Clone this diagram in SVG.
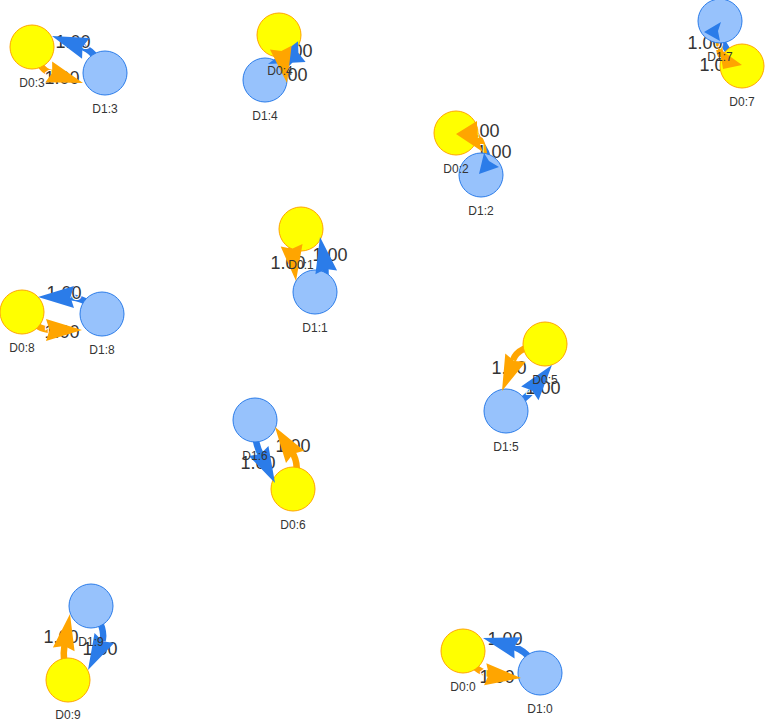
<svg xmlns="http://www.w3.org/2000/svg" xmlns:xlink="http://www.w3.org/1999/xlink" width="765" height="721" viewBox="0 0 765 721">
<style>
.bg{fill:#ffffff}
.e{fill:none;stroke-width:6.5;stroke-linecap:round}
.eo{stroke:#FFA500}
.eb{stroke:#2B7CE9}
.ao{fill:#FFA500}
.ab{fill:#2B7CE9}
.el{font-family:"Liberation Sans",Arial,sans-serif;font-size:18px;fill:#343434;stroke:#ffffff;stroke-width:2;paint-order:stroke;text-anchor:middle}
.n0 circle{fill:#FFFF00;stroke:#FFA500;stroke-width:1}
.n1 circle{fill:#97C2FC;stroke:#2B7CE9;stroke-width:1}
.nl{font-family:"Liberation Sans",Arial,sans-serif;font-size:12px;fill:#343434;text-anchor:middle}
</style>
<defs>
<path id="ah" d="M0,0 L-36,-11 L-32.4,0 L-36,11 Z"/>
</defs>
<rect class="bg" x="0" y="0" width="765" height="721"/>
<g id="connectors">
<path class="e eo" d="M32,47 Q40,72 52,73"/>
<path class="e eb" d="M105,73 Q95,50 80,46"/>
<path class="e eb" d="M102,314 Q86,297 67,297"/>
<path class="e eo" d="M22,312 Q36,330 52,330"/>
<path class="e eb" d="M540,673 Q528,650 511,646"/>
<path class="e eo" d="M463,651 Q474,672 490,674"/>
<path class="e eo" d="M301,229 Q290,236 292,250"/>
<path class="e eb" d="M315,292 Q328,282 325,267"/>
<path class="e eo" d="M545,344 Q518,346 513,360"/>
<path class="e eb" d="M506,411 Q522,402 533,390"/>
<path class="e eb" d="M255,420 Q253,440 261,455"/>
<path class="e eo" d="M293,489 Q301,466 292,452"/>
<path class="e eo" d="M68,680 Q62,660 64.5,645"/>
<path class="e eb" d="M91,606 Q107,630 102,642"/>
<path class="e eo" d="M279,35 Q282,45 281.5,51"/>
<path class="e eb" d="M265,80 Q284,70 295,54"/>
<path class="e eb" d="M456,133 Q482,136 488,158"/>
<path class="e eo" d="M481,175 Q488,150 478,137"/>
<path class="e eb" d="M742,66 Q724,50 718,32"/>
<path class="e eo" d="M720,21 Q716,45 722,58"/>
<text class="el" x="73" y="47.5">1.00</text>
<text class="el" x="62" y="83.5">1.00</text>
<text class="el" x="64" y="298.5">1.00</text>
<text class="el" x="62" y="337.5">1.00</text>
<text class="el" x="505" y="644.5">1.00</text>
<text class="el" x="497" y="682.5">1.00</text>
<text class="el" x="288" y="268.5">1.00</text>
<text class="el" x="330" y="260.5">1.00</text>
<text class="el" x="509" y="373.5">1.00</text>
<text class="el" x="543" y="393.5">1.00</text>
<text class="el" x="293" y="451.5">1.00</text>
<text class="el" x="258" y="468.5">1.00</text>
<text class="el" x="61" y="642.5">1.00</text>
<text class="el" x="100" y="654.5">1.00</text>
<text class="el" x="295" y="56.5">1.00</text>
<text class="el" x="290" y="80.5">1.00</text>
<text class="el" x="482" y="136.5">1.00</text>
<text class="el" x="494" y="157.5">1.00</text>
<text class="el" x="705" y="48.5">1.00</text>
<text class="el" x="717" y="70.5">1.00</text>
</g>
<g id="D0:3" class="n0"><circle cx="32" cy="47" r="22"/></g>
<g id="D1:3" class="n1"><circle cx="105" cy="73" r="22"/></g>
<g id="D0:4" class="n0"><circle cx="279" cy="35" r="22"/></g>
<g id="D1:4" class="n1"><circle cx="265" cy="80" r="22"/></g>
<g id="D0:2" class="n0"><circle cx="456" cy="133" r="22"/></g>
<g id="D1:2" class="n1"><circle cx="481" cy="175" r="22"/></g>
<g id="D1:7" class="n1"><circle cx="720" cy="21" r="22"/></g>
<g id="D0:7" class="n0"><circle cx="742" cy="66" r="22"/></g>
<g id="D0:1" class="n0"><circle cx="301" cy="229" r="22"/></g>
<g id="D1:1" class="n1"><circle cx="315" cy="292" r="22"/></g>
<g id="D0:8" class="n0"><circle cx="22" cy="312" r="22"/></g>
<g id="D1:8" class="n1"><circle cx="102" cy="314" r="22"/></g>
<g id="D0:5" class="n0"><circle cx="545" cy="344" r="22"/></g>
<g id="D1:5" class="n1"><circle cx="506" cy="411" r="22"/></g>
<g id="D1:6" class="n1"><circle cx="255" cy="420" r="22"/></g>
<g id="D0:6" class="n0"><circle cx="293" cy="489" r="22"/></g>
<g id="D1:9" class="n1"><circle cx="91" cy="606" r="22"/></g>
<g id="D0:9" class="n0"><circle cx="68" cy="680" r="22"/></g>
<g id="D0:0" class="n0"><circle cx="463" cy="651" r="22"/></g>
<g id="D1:0" class="n1"><circle cx="540" cy="673" r="22"/></g>
<g id="connector-arrows">
<use xlink:href="#ah" class="ao" transform="translate(83,83) rotate(18)"/>
<use xlink:href="#ah" class="ab" transform="translate(52,36) rotate(200)"/>
<use xlink:href="#ah" class="ab" transform="translate(38,297) rotate(180)"/>
<use xlink:href="#ah" class="ao" transform="translate(82,330) rotate(0)"/>
<use xlink:href="#ah" class="ab" transform="translate(483,638) rotate(196)"/>
<use xlink:href="#ah" class="ao" transform="translate(521,678) rotate(6)"/>
<use xlink:href="#ah" class="ao" transform="translate(296,281) rotate(83)"/>
<use xlink:href="#ah" class="ab" transform="translate(320,237) rotate(260)"/>
<use xlink:href="#ah" class="ao" transform="translate(502,391) rotate(112)"/>
<use xlink:href="#ah" class="ab" transform="translate(552,365) rotate(-52)"/>
<use xlink:href="#ah" class="ab" transform="translate(275,483) rotate(63)"/>
<use xlink:href="#ah" class="ao" transform="translate(275,427) rotate(236)"/>
<use xlink:href="#ah" class="ao" transform="translate(70,614) rotate(-80)"/>
<use xlink:href="#ah" class="ab" transform="translate(88,670) rotate(117)"/>
<use xlink:href="#ah" class="ab" transform="translate(268,64) rotate(160)"/>
<use xlink:href="#ah" class="ao" transform="translate(287,83) rotate(80)"/>
<path class="ab" d="M479,174 L484,153 L489,161 L499,167 Z"/>
<path class="ao" d="M456,134 L477,121 L477,137 L483,152 Z"/>
<path class="ab" d="M704,32 L721,22 L718,31 L720,41 Z"/>
<path class="ao" d="M742,65 L717,47 L721,57 L723,69 Z"/>
</g>
<g id="node-labels">
<text id="label-D0:3" class="nl" x="32" y="87">D0:3</text>
<text id="label-D1:3" class="nl" x="105" y="113">D1:3</text>
<text id="label-D0:4" class="nl" x="280" y="75">D0:4</text>
<text id="label-D1:4" class="nl" x="265" y="120">D1:4</text>
<text id="label-D0:2" class="nl" x="456" y="173">D0:2</text>
<text id="label-D1:2" class="nl" x="481" y="215">D1:2</text>
<text id="label-D1:7" class="nl" x="720" y="61">D1:7</text>
<text id="label-D0:7" class="nl" x="742" y="106">D0:7</text>
<text id="label-D0:1" class="nl" x="301" y="269">D0:1</text>
<text id="label-D1:1" class="nl" x="315" y="332">D1:1</text>
<text id="label-D0:8" class="nl" x="22" y="352">D0:8</text>
<text id="label-D1:8" class="nl" x="102" y="354">D1:8</text>
<text id="label-D0:5" class="nl" x="545" y="384">D0:5</text>
<text id="label-D1:5" class="nl" x="506" y="451">D1:5</text>
<text id="label-D1:6" class="nl" x="255" y="460">D1:6</text>
<text id="label-D0:6" class="nl" x="293" y="529">D0:6</text>
<text id="label-D1:9" class="nl" x="91" y="646">D1:9</text>
<text id="label-D0:9" class="nl" x="68" y="719">D0:9</text>
<text id="label-D0:0" class="nl" x="463" y="691">D0:0</text>
<text id="label-D1:0" class="nl" x="540" y="713">D1:0</text>
</g>
</svg>
